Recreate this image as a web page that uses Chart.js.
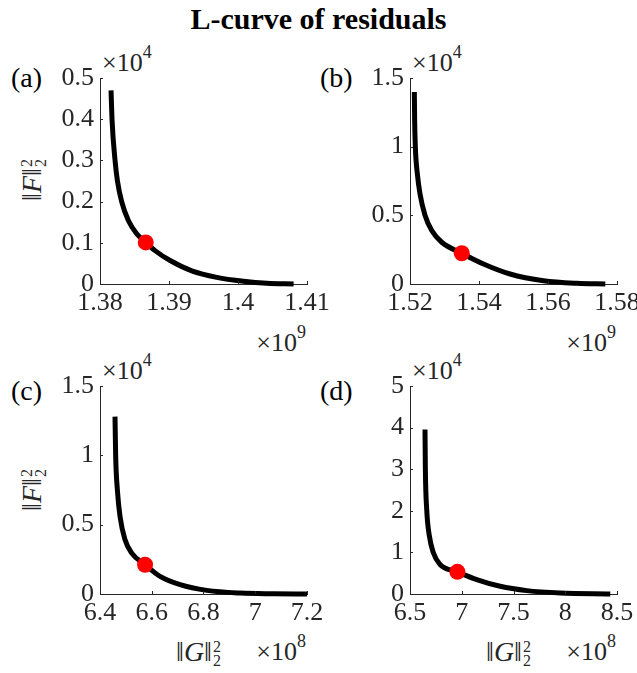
<!DOCTYPE html>
<html>
<head>
<meta charset="utf-8">
<script src="https://cdn.jsdelivr.net/npm/chart.js@4.4.1/dist/chart.umd.min.js"></script>
<style>
  body { margin: 0; width: 637px; height: 673px; overflow: hidden; background: #fff; position: relative;
         font-family: "Liberation Serif", "Times New Roman", serif; color: #262626; }
  canvas { position: absolute; }
  .txt { position: absolute; line-height: 1; white-space: nowrap; }
  .title { left: 0; width: 637px; text-align: center; top: 4px; font-size: 30px; font-weight: bold; color: #000; }
  .panel { font-size: 28px; color: #000; }
  .expo { font-size: 26px; }
  .expo sup { font-size: 18px; vertical-align: 0; position: relative; top: -13px; }
  .lab { font-size: 28px; }
  .lab i { font-style: italic; }
  .ss { display: inline-flex; flex-direction: column; font-size: 16px; line-height: 0.9; vertical-align: 9px; margin-left: 1px; }
  .ylab { transform: translate(-50%, -50%) rotate(-90deg); }
</style>
</head>
<body>
<div class="txt title">L-curve of residuals</div>

<div class="txt panel" style="left:11px; top:64px;">(a)</div>
<div class="txt panel" style="left:320px; top:64px;">(b)</div>
<div class="txt panel" style="left:11px; top:377px;">(c)</div>
<div class="txt panel" style="left:320px; top:377px;">(d)</div>

<div class="txt expo" style="left:102px; top:50px;">×10<sup>4</sup></div>
<div class="txt expo" style="left:412px; top:50px;">×10<sup>4</sup></div>
<div class="txt expo" style="left:102px; top:358px;">×10<sup>4</sup></div>
<div class="txt expo" style="left:412px; top:358px;">×10<sup>4</sup></div>

<div class="txt expo" style="left:200px; width:106px; text-align:right; top:330px;">×10<sup>9</sup></div>
<div class="txt expo" style="left:510px; width:106px; text-align:right; top:330px;">×10<sup>9</sup></div>
<div class="txt expo" style="left:200px; width:106px; text-align:right; top:639px;">×10<sup>8</sup></div>
<div class="txt expo" style="left:510px; width:106px; text-align:right; top:639px;">×10<sup>8</sup></div>

<div class="txt lab ylab" style="left:33px; top:180px;">‖<i>F</i>‖<span class="ss"><span>2</span><span>2</span></span></div>
<div class="txt lab ylab" style="left:33px; top:490px;">‖<i>F</i>‖<span class="ss"><span>2</span><span>2</span></span></div>
<div class="txt lab" style="left:176px; top:638px;">‖<i>G</i>‖<span class="ss"><span>2</span><span>2</span></span></div>
<div class="txt lab" style="left:486px; top:638px;">‖<i>G</i>‖<span class="ss"><span>2</span><span>2</span></span></div>

<canvas id="chartA" width="300" height="280" style="left:40px; top:53px;"></canvas>
<canvas id="chartB" width="300" height="280" style="left:350px; top:53px;"></canvas>
<canvas id="chartC" width="300" height="282" style="left:40px; top:361px;"></canvas>
<canvas id="chartD" width="300" height="282" style="left:350px; top:361px;"></canvas>

<script>
// Values, in axis units (x in 1e9 / 1e8, y in 1e4)
const curveAX = [1.3816, 1.38174, 1.38218, 1.38252, 1.38314, 1.38411, 1.38532, 1.38663, 1.38798, 1.39016, 1.3933, 1.39693, 1.4008, 1.40419, 1.40806];
const curveAY = [0.470, 0.400, 0.300, 0.251, 0.200, 0.154, 0.122, 0.101, 0.081, 0.057, 0.032, 0.016, 0.0065, 0.0016, 0.0];
const kneeA = [1.38663, 0.101];
const ticksAX = [1.38, 1.39, 1.4, 1.41];
const ticksAY = [0, 0.1, 0.2, 0.3, 0.4, 0.5];

const curveBX = [1.52126, 1.52135, 1.52155, 1.52213, 1.5229, 1.52435, 1.5263, 1.5292, 1.535, 1.5413, 1.549, 1.5587, 1.5684, 1.5766];
const curveBY = [1.398, 1.191, 0.997, 0.802, 0.656, 0.501, 0.389, 0.304, 0.224, 0.146, 0.073, 0.024, 0.005, 0];
const kneeB = [1.535, 0.224];
const ticksBX = [1.52, 1.54, 1.56, 1.58];
const ticksBY = [0, 0.5, 1, 1.5];

const curveCX = [6.458, 6.4606, 6.4671, 6.4774, 6.4968, 6.5226, 6.5742, 6.6323, 6.7097, 6.8129, 6.9419, 7.071, 7.2];
const curveCY = [1.279, 0.991, 0.751, 0.559, 0.391, 0.295, 0.211, 0.127, 0.067, 0.026, 0.007, 0.002, 0];
const kneeC = [6.5742, 0.211];
const ticksCX = [6.4, 6.6, 6.8, 7, 7.2];
const ticksCY = [0, 0.5, 1, 1.5];

const curveDX = [6.645, 6.6484, 6.6613, 6.6871, 6.7258, 6.7903, 6.958, 7.145, 7.371, 7.629, 7.952, 8.435];
const curveDY = [3.952, 3.008, 2.040, 1.395, 0.992, 0.710, 0.532, 0.347, 0.185, 0.081, 0.024, 0];
const kneeD = [6.958, 0.532];
const ticksDX = [6.5, 7, 7.5, 8, 8.5];
const ticksDY = [0, 1, 2, 3, 4, 5];

const axisColor = '#262626';
const tickFont = { family: "'Liberation Serif', 'Times New Roman', serif", size: 26 };

// MATLAB style ticks pointing into the plot
const innerTicks = {
    id: 'innerTicks',
    afterDraw(chart) {
        const { ctx, chartArea, scales } = chart;
        ctx.save();
        ctx.strokeStyle = axisColor;
        ctx.lineWidth = 1;
        ctx.beginPath();
        scales.x.ticks.forEach(t => {
            const px = Math.round(scales.x.getPixelForValue(t.value)) + 0.5;
            ctx.moveTo(px, chartArea.bottom);
            ctx.lineTo(px, chartArea.bottom - 3);
        });
        scales.y.ticks.forEach(t => {
            const py = Math.round(scales.y.getPixelForValue(t.value)) + 0.5;
            ctx.moveTo(chartArea.left, py);
            ctx.lineTo(chartArea.left + 3, py);
        });
        ctx.stroke();
        ctx.restore();
    }
};

function fmt(v) {
    return String(Math.round(v * 1000) / 1000);
}

function makePanel(id, xs, ys, knee, xTicks, yTicks) {
    const curve = xs.map((x, i) => ({ x: x, y: ys[i] }));
    new Chart(document.getElementById(id), {
        type: 'scatter',
        data: {
            datasets: [
                {
                    data: [{ x: knee[0], y: knee[1] }],
                    pointRadius: 8,
                    pointBackgroundColor: '#ff0000',
                    pointBorderWidth: 0,
                    clip: false
                },
                {
                    type: 'line',
                    data: curve,
                    borderColor: '#000',
                    borderWidth: 5,
                    pointRadius: 0,
                    cubicInterpolationMode: 'monotone',
                    fill: false,
                    clip: false
                }
            ]
        },
        options: {
            responsive: false,
            animation: false,
            events: [],
            layout: { padding: { left: 0, top: 25, right: 33, bottom: 0 } },
            plugins: { legend: { display: false }, tooltip: { enabled: false } },
            scales: {
                x: {
                    type: 'linear',
                    min: xTicks[0],
                    max: xTicks[xTicks.length - 1],
                    afterBuildTicks: s => { s.ticks = xTicks.map(v => ({ value: v })); },
                    afterFit: s => { s.height = 49; },
                    grid: { display: false, drawTicks: false },
                    border: { display: true, color: axisColor, width: 1 },
                    ticks: { color: axisColor, font: tickFont, padding: 4, maxRotation: 0, callback: fmt }
                },
                y: {
                    type: 'linear',
                    min: yTicks[0],
                    max: yTicks[yTicks.length - 1],
                    afterBuildTicks: s => { s.ticks = yTicks.map(v => ({ value: v })); },
                    afterFit: s => { s.width = 60; },
                    grid: { display: false, drawTicks: false },
                    border: { display: true, color: axisColor, width: 1 },
                    ticks: { color: axisColor, font: tickFont, padding: 6, callback: fmt }
                }
            }
        },
        plugins: [innerTicks]
    });
}

makePanel('chartA', curveAX, curveAY, kneeA, ticksAX, ticksAY);
makePanel('chartB', curveBX, curveBY, kneeB, ticksBX, ticksBY);
makePanel('chartC', curveCX, curveCY, kneeC, ticksCX, ticksCY);
makePanel('chartD', curveDX, curveDY, kneeD, ticksDX, ticksDY);
</script>
</body>
</html>
